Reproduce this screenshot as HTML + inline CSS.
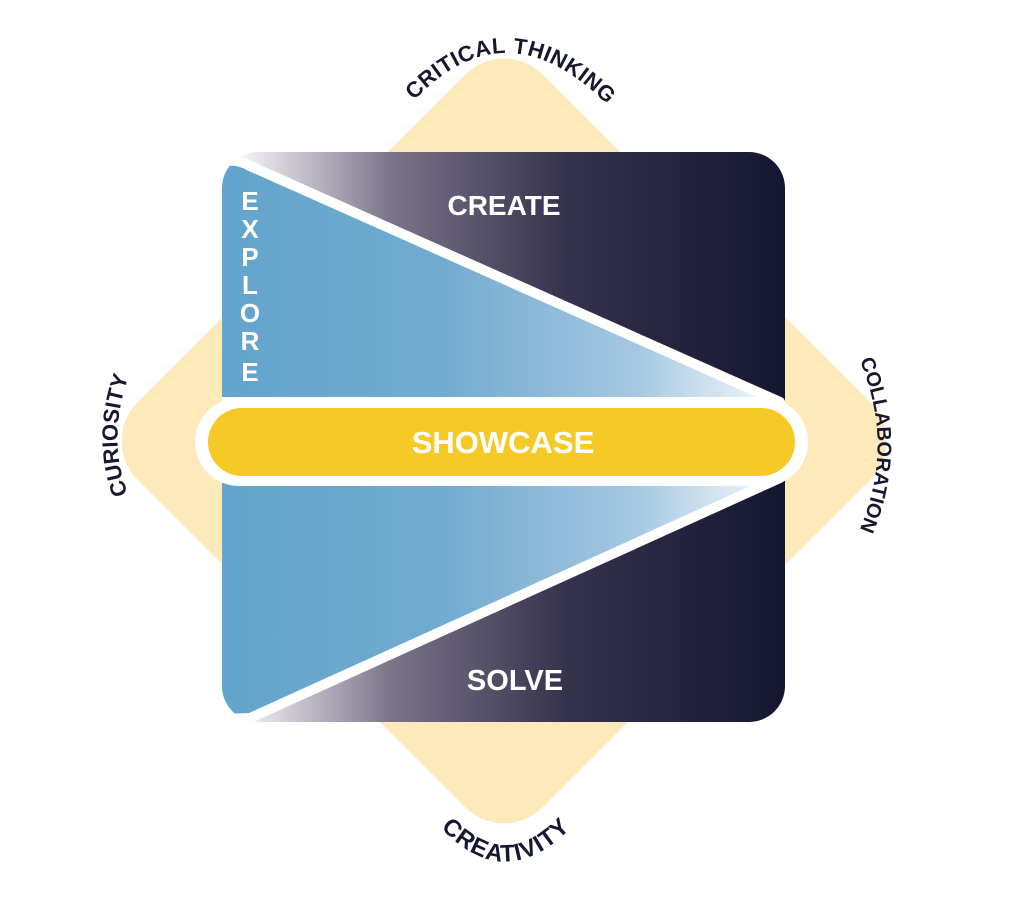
<!DOCTYPE html>
<html><head><meta charset="utf-8"><style>
html,body{margin:0;padding:0;background:#fff;}
svg{display:block;}
text{font-family:"Liberation Sans",sans-serif;font-weight:bold;}
</style></head><body>
<svg width="1024" height="902" viewBox="0 0 1024 902" xmlns="http://www.w3.org/2000/svg">
<defs>
<linearGradient id="dark" x1="240" y1="0" x2="785" y2="0" gradientUnits="userSpaceOnUse">
<stop offset="0" stop-color="#f6f4f8"/>
<stop offset="0.28" stop-color="#7a7389"/>
<stop offset="0.6" stop-color="#35324c"/>
<stop offset="1" stop-color="#141630"/>
</linearGradient>
<linearGradient id="blue" x1="222" y1="0" x2="775" y2="0" gradientUnits="userSpaceOnUse">
<stop offset="0" stop-color="#63a4cc"/>
<stop offset="0.4" stop-color="#72abd0"/>
<stop offset="0.75" stop-color="#a5c8e0"/>
<stop offset="1" stop-color="#f4f8fb"/>
</linearGradient>
<clipPath id="sq"><rect x="222" y="152" width="563" height="570" rx="36"/></clipPath>
<path id="pTop" d="M 404,112 Q 505,-8 618,116"/>
<path id="pRight" d="M 850,340 Q 905,445 850,550"/>
<path id="pLeft" d="M 135,510 Q 100,440 135,360"/>
<path id="pBot" d="M 432,818 Q 505,905 580,818"/>
</defs>
<rect x="217.5" y="154.5" width="573" height="573" rx="55" fill="#fde9b9" transform="rotate(45 504 441)"/>
<g clip-path="url(#sq)">
<rect x="222" y="152" width="563" height="570" fill="url(#dark)"/>
<path d="M 200,162 L 222,162 Q 235,158 250,166 L 780,402 L 200,402 Z" fill="url(#blue)" stroke="#fff" stroke-width="10" stroke-linejoin="round"/>
<path d="M 200,720 L 250,718 L 780,478 L 200,478 Z" fill="url(#blue)" stroke="#fff" stroke-width="10" stroke-linejoin="round"/>
</g>
<rect x="195" y="398" width="613" height="88" rx="44" fill="#fff"/>
<rect x="208" y="408" width="587" height="68" rx="34" fill="#f5c926"/>
<text x="503" y="453" font-size="31" fill="#fff" text-anchor="middle">SHOWCASE</text>
<text x="504" y="215" font-size="28" fill="#fff" text-anchor="middle">CREATE</text>
<text x="515" y="690" font-size="29" fill="#fff" text-anchor="middle">SOLVE</text>
<g font-size="26" fill="#fff" text-anchor="middle">
<text x="250" y="210">E</text><text x="250" y="238">X</text><text x="250" y="266">P</text><text x="250" y="294">L</text><text x="250" y="322">O</text><text x="250" y="350">R</text><text x="250" y="381">E</text>
</g>
<g fill="#161830">
<text text-anchor="middle" font-size="22" letter-spacing="0.5"><textPath href="#pTop" startOffset="50%">CRITICAL THINKING</textPath></text>
<text text-anchor="middle" font-size="20" letter-spacing="0"><textPath href="#pRight" startOffset="50%">COLLABORATION</textPath></text>
<text text-anchor="middle" font-size="22" letter-spacing="0"><textPath href="#pLeft" startOffset="50%">CURIOSITY</textPath></text>
<text text-anchor="middle" font-size="24" letter-spacing="1"><textPath href="#pBot" startOffset="50%">CREATIVITY</textPath></text>
</g>
</svg>
</body></html>
